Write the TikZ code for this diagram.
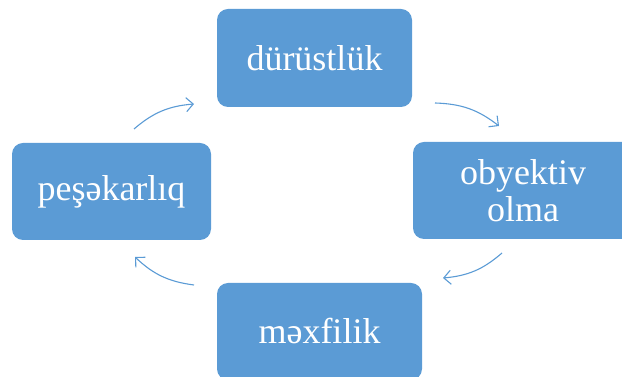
\documentclass[tikz,border=0pt]{standalone}
\usepackage{fontspec}
\setmainfont{Liberation Serif}
\usetikzlibrary{arrows.meta}
\definecolor{boxblue}{HTML}{5B9BD5}
\definecolor{arrblue}{HTML}{5B9BD5}
\tikzset{
  cbox/.style={fill=boxblue, rounded corners=11pt, text=white, align=center,
    font=\fontsize{36}{37}\selectfont, inner sep=0pt},
  cyc/.style={draw=arrblue, line width=1.1pt, -{Straight Barb[length=7pt,width=14pt]}, bend left=18}
}
\begin{document}
\begin{tikzpicture}[x=1pt,y=1pt]
\useasboundingbox (0,0) rectangle (622,377);
\clip (0,0) rectangle (622,377);
\node[cbox, minimum width=195pt, minimum height=98pt] (top) at (314.5,319) {dürüstlük};
\node[cbox, minimum width=220pt, minimum height=97pt] (right) at (523,186.5) {obyektiv\\olma};
\node[cbox, minimum width=205pt, minimum height=97pt] (bottom) at (319.5,45.5) {məxfilik};
\node[cbox, minimum width=199pt, minimum height=97pt] (left) at (111.5,185.5) {peşəkarlıq};
\coordinate (a1s) at (134,248); \coordinate (a1e) at (194,273);
\coordinate (a2s) at (435,274); \coordinate (a2e) at (499,251);
\coordinate (a3s) at (502,124); \coordinate (a3e) at (443,99);
\coordinate (a4s) at (194,92);  \coordinate (a4e) at (135,120);
\draw[cyc] (a1s) to (a1e);
\draw[cyc] (a2s) to (a2e);
\draw[cyc] (a3s) to (a3e);
\draw[cyc] (a4s) to (a4e);
\end{tikzpicture}
\end{document}
